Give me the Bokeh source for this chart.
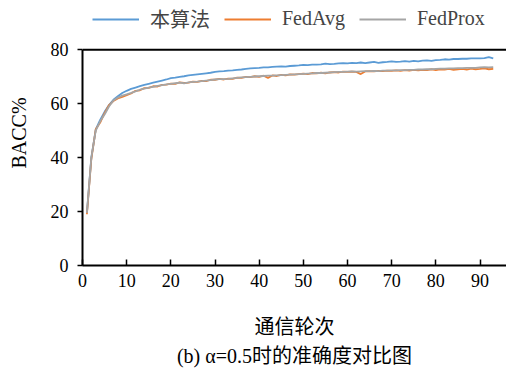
from bokeh.plotting import figure
from bokeh.models import Range1d, FixedTicker, Legend, LegendItem, Title, Span
from bokeh.embed import file_html
from bokeh.resources import INLINE

rounds = list(range(1, 94))

ours = [19.5, 40.0, 50.5, 54.0, 57.0, 59.5, 61.5, 62.8, 64.0, 64.8,
        65.5, 66.0, 66.5, 67.0, 67.4, 67.8, 68.2, 68.6, 69.0, 69.5,
        69.7, 70.0, 70.2, 70.5, 70.7, 70.9, 71.1, 71.3, 71.5, 71.8,
        72.0, 72.1, 72.3, 72.4, 72.6, 72.7, 72.9, 73.1, 73.2, 73.3,
        73.5, 73.5, 73.7, 73.8, 73.9, 73.8, 74.0, 74.1, 74.2, 74.4,
        74.3, 74.5, 74.5, 74.6, 74.9, 74.7, 74.8, 75.0, 75.1, 75.0,
        75.2, 75.1, 75.3, 75.1, 75.3, 75.5, 75.2, 75.4, 75.5, 75.7,
        75.5, 75.6, 75.8, 75.6, 75.9, 75.7, 76.0, 76.1, 75.9, 76.2,
        76.3, 76.5, 76.4, 76.6, 76.6, 76.7, 76.7, 76.8, 76.8, 76.8,
        76.9, 77.3, 76.8]

fedavg = [19.0, 39.5, 50.5, 53.0, 56.5, 59.5, 61.0, 62.0, 62.5, 63.2,
          63.8, 64.8, 65.0, 65.8, 65.9, 66.5, 66.4, 67.0, 67.1, 67.5,
          67.4, 67.9, 67.7, 67.8, 68.2, 68.1, 68.5, 68.4, 68.9, 68.9,
          69.2, 69.0, 69.3, 69.2, 69.7, 69.6, 70.0, 69.9, 70.2, 70.0,
          70.4, 69.6, 70.5, 70.3, 70.7, 70.5, 70.9, 70.8, 71.0, 71.2,
          71.0, 71.4, 71.3, 71.5, 71.3, 71.6, 71.7, 71.6, 71.9, 71.8,
          71.9, 71.8, 71.0, 72.0, 72.1, 72.0, 72.2, 72.1, 72.3, 72.2,
          72.4, 72.2, 72.5, 72.3, 72.6, 72.4, 72.6, 72.5, 72.8, 72.5,
          72.8, 72.7, 72.9, 72.6, 72.8, 72.9, 72.7, 73.0, 72.8, 72.9,
          73.1, 72.8, 72.9]

fedprox = [19.5, 40.0, 50.0, 53.5, 56.0, 59.0, 61.2, 62.3, 63.0, 63.5,
           64.0, 64.6, 65.2, 65.6, 66.0, 66.3, 66.6, 66.9, 67.2, 67.4,
           67.6, 67.8, 67.6, 67.9, 68.1, 68.2, 68.4, 68.6, 68.8, 69.0,
           69.1, 69.1, 69.2, 69.4, 69.6, 69.8, 69.9, 70.0, 70.1, 70.2,
           70.3, 70.4, 70.4, 70.5, 70.6, 70.7, 70.8, 70.9, 71.0, 71.1,
           71.2, 71.3, 71.4, 71.4, 71.5, 71.6, 71.7, 71.8, 71.8, 71.9,
           72.0, 71.9, 72.0, 72.1, 72.1, 72.2, 72.1, 72.3, 72.3, 72.4,
           72.4, 72.5, 72.5, 72.6, 72.6, 72.7, 72.7, 72.8, 72.8, 72.9,
           73.0, 73.0, 73.1, 73.1, 73.2, 73.2, 73.3, 73.3, 73.3, 73.5,
           73.6, 73.5, 73.6]

series_names = ["本算法", "FedAvg", "FedProx"]
x_ticks = [0, 10, 20, 30, 40, 50, 60, 70, 80, 90]
y_ticks = [0, 20, 40, 60, 80]
y_max = 80

FONT = "Liberation Serif, Noto Sans CJK SC"

p = figure(width=506, height=368, output_backend="svg", toolbar_location=None,
           x_range=Range1d(0, 96), y_range=Range1d(0, 98.3),
           min_border_left=82, min_border_right=0, min_border_top=0,
           min_border_bottom=99)
p.grid.visible = False
p.outline_line_color = None
p.background_fill_color = "white"
p.border_fill_color = "white"

for ax in (p.xaxis, p.yaxis):
    ax.axis_line_width = 2
    ax.axis_line_color = "black"
    ax.major_tick_line_width = 1.5
    ax.major_tick_line_color = "black"
    ax.minor_tick_line_color = None
    ax.major_label_text_font = FONT
    ax.major_label_text_font_size = "18px"
    ax.major_label_text_color = "black"
    ax.axis_label_text_font = FONT
    ax.axis_label_text_font_size = "20px"
    ax.axis_label_text_font_style = "normal"
    ax.axis_label_text_color = "black"

p.xaxis.ticker = FixedTicker(ticks=x_ticks)
p.xaxis.major_tick_in = 6
p.xaxis.major_tick_out = 0
p.xaxis.major_label_standoff = 8
p.xaxis.axis_label = "通信轮次"
p.xaxis.axis_label_standoff = 26

p.yaxis.ticker = FixedTicker(ticks=y_ticks)
p.yaxis.bounds = (0, y_max)
p.yaxis.major_tick_in = 0
p.yaxis.major_tick_out = 5
p.yaxis.major_label_standoff = 9
p.yaxis.axis_label = "BACC%"
p.yaxis.axis_label_standoff = 18

p.add_layout(Span(location=y_max, dimension="width", line_color="black", line_width=2))

r1 = p.line(rounds, ours, line_color="#5B9BD5", line_width=1.8)
r2 = p.line(rounds, fedavg, line_color="#ED7D31", line_width=1.8)
r3 = p.line(rounds, fedprox, line_color="#A5A5A5", line_width=1.8)

legend = Legend(items=[LegendItem(label=series_names[0], renderers=[r1]),
                       LegendItem(label=series_names[1], renderers=[r2]),
                       LegendItem(label=series_names[2], renderers=[r3])],
                orientation="horizontal", location=(10, 232),
                border_line_color=None, background_fill_alpha=0,
                label_text_font=FONT, label_text_font_size="20px",
                glyph_width=47, label_standoff=11, spacing=14,
                padding=0, margin=0)
p.add_layout(legend)

cap = Title(text="(b) α=0.5时的准确度对比图", align="center", standoff=4,
            text_font=FONT, text_font_size="20px", text_font_style="normal",
            text_color="black")
p.add_layout(cap, "below")

open("out.html", "w").write(file_html(p, INLINE))
